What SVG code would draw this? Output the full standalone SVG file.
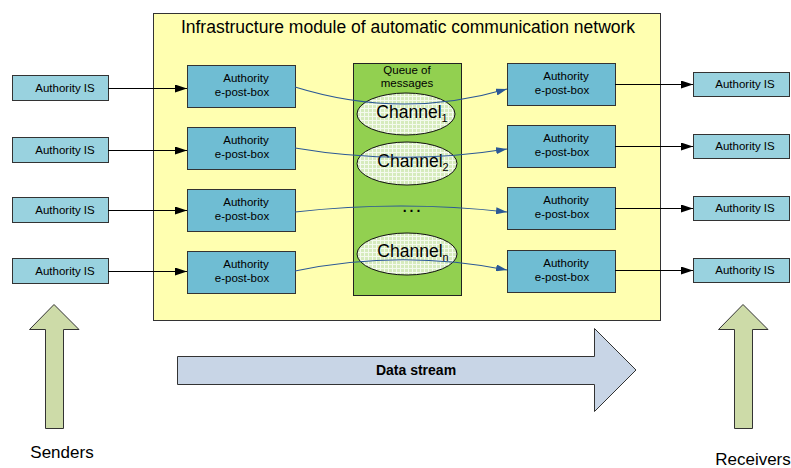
<svg xmlns="http://www.w3.org/2000/svg" width="791" height="468" viewBox="0 0 791 468">
  <style>
    text { font-family: "Liberation Sans", Arial, sans-serif; fill: #000; }
    .is { fill: #99d2df; stroke: #333; stroke-width: 1; }
    .box { fill: #6fbdd3; stroke: #333; stroke-width: 1; }
    .lbl { font-size: 11.5px; text-anchor: middle; }
    .ch { font-size: 17.5px; text-anchor: middle; }
    .link { stroke: #000; stroke-width: 1; fill: none; marker-end: url(#arrBlack); }
    .flow { stroke: #2b5896; stroke-width: 1.2; fill: none; marker-end: url(#arrBlue); }
    .ell { fill: url(#grid); stroke: #111; stroke-width: 1; }
    .fat { stroke: #333; stroke-width: 1; }
  </style>
  <defs>
    <marker id="arrBlack" viewBox="0 0 12 8" refX="12" refY="4" markerWidth="12" markerHeight="8" markerUnits="userSpaceOnUse" orient="auto">
      <path d="M0,0 L12,4 L0,8 Z" fill="#000"/>
    </marker>
    <marker id="arrBlue" viewBox="0 0 11 7" refX="11" refY="3.5" markerWidth="11" markerHeight="7" markerUnits="userSpaceOnUse" orient="auto">
      <path d="M0,0 L11,3.5 L0,7 Z" fill="#2b5896"/>
    </marker>
    <pattern id="grid" width="4" height="4" patternUnits="userSpaceOnUse">
      <rect width="4" height="4" fill="#d6ebbd"/>
      <path d="M0,0.5 H4 M0.5,0 V4" stroke="#f4faee" stroke-width="1"/>
    </pattern>
  </defs>

  <!-- infrastructure module frame -->
  <g id="module">
    <rect x="153.5" y="13.5" width="507" height="307" fill="#ffffb0" stroke="#333" stroke-width="1"/>
    <text x="408" y="33" font-size="17.5" text-anchor="middle">Infrastructure module of automatic communication network</text>
  </g>

  <!-- message queue -->
  <g id="queue">
    <rect x="353.5" y="63.5" width="108" height="232" fill="#92d050" stroke="#222" stroke-width="1"/>
    <text class="lbl" x="407" y="74">Queue of</text>
    <text class="lbl" x="407" y="87">messages</text>
  </g>
  <g id="channel1">
    <ellipse class="ell" cx="406" cy="114" rx="49" ry="21"/>
    <text class="ch" x="412" y="118">Channel<tspan font-size="11" dy="4">1</tspan></text>
  </g>
  <g id="channel2">
    <ellipse class="ell" cx="407" cy="163.5" rx="50" ry="21.5"/>
    <text class="ch" x="413" y="167">Channel<tspan font-size="11" dy="4">2</tspan></text>
  </g>
  <g id="ellipsis">
    <text x="413" y="212" font-size="14" font-weight="bold" letter-spacing="3" text-anchor="middle">...</text>
  </g>
  <g id="channeln">
    <ellipse class="ell" cx="407" cy="254" rx="50" ry="21"/>
    <text class="ch" x="413" y="257">Channel<tspan font-size="11" dy="4">n</tspan></text>
  </g>

  <!-- sending information systems -->
  <g id="senderIS1"><rect class="is" x="12.5" y="75.5" width="96" height="25"/><text class="lbl" x="65" y="92">Authority IS</text></g>
  <g id="senderIS2"><rect class="is" x="12.5" y="137.5" width="96" height="25"/><text class="lbl" x="65" y="154">Authority IS</text></g>
  <g id="senderIS3"><rect class="is" x="12.5" y="197.5" width="96" height="25"/><text class="lbl" x="65" y="214">Authority IS</text></g>
  <g id="senderIS4"><rect class="is" x="12.5" y="258.5" width="96" height="25"/><text class="lbl" x="65" y="275">Authority IS</text></g>

  <!-- sending e-post-boxes -->
  <g id="senderBox1"><rect class="box" x="187.5" y="65.5" width="108" height="42"/><text class="lbl" x="246" y="82">Authority</text><text class="lbl" x="242" y="96">e-post-box</text></g>
  <g id="senderBox2"><rect class="box" x="187.5" y="127.5" width="108" height="42"/><text class="lbl" x="246" y="144">Authority</text><text class="lbl" x="242" y="158">e-post-box</text></g>
  <g id="senderBox3"><rect class="box" x="187.5" y="189.5" width="108" height="42"/><text class="lbl" x="246" y="206">Authority</text><text class="lbl" x="242" y="220">e-post-box</text></g>
  <g id="senderBox4"><rect class="box" x="187.5" y="251.5" width="108" height="42"/><text class="lbl" x="246" y="268">Authority</text><text class="lbl" x="242" y="282">e-post-box</text></g>

  <!-- receiving e-post-boxes -->
  <g id="receiverBox1"><rect class="box" x="507.5" y="63.5" width="108" height="42"/><text class="lbl" x="566" y="80">Authority</text><text class="lbl" x="562" y="94">e-post-box</text></g>
  <g id="receiverBox2"><rect class="box" x="507.5" y="125.5" width="108" height="42"/><text class="lbl" x="566" y="142">Authority</text><text class="lbl" x="562" y="156">e-post-box</text></g>
  <g id="receiverBox3"><rect class="box" x="507.5" y="187.5" width="108" height="42"/><text class="lbl" x="566" y="204">Authority</text><text class="lbl" x="562" y="218">e-post-box</text></g>
  <g id="receiverBox4"><rect class="box" x="507.5" y="250.5" width="108" height="42"/><text class="lbl" x="566" y="267">Authority</text><text class="lbl" x="562" y="281">e-post-box</text></g>

  <!-- receiving information systems -->
  <g id="receiverIS1"><rect class="is" x="693.5" y="72.5" width="96" height="24"/><text class="lbl" x="745" y="88">Authority IS</text></g>
  <g id="receiverIS2"><rect class="is" x="693.5" y="134.5" width="96" height="24"/><text class="lbl" x="745" y="150">Authority IS</text></g>
  <g id="receiverIS3"><rect class="is" x="693.5" y="196.5" width="96" height="24"/><text class="lbl" x="745" y="212">Authority IS</text></g>
  <g id="receiverIS4"><rect class="is" x="693.5" y="258.5" width="96" height="24"/><text class="lbl" x="745" y="274">Authority IS</text></g>

  <!-- connectors -->
  <g id="connectors">
    <path class="link" d="M108,88.5 H187"/>
    <path class="link" d="M108,150.5 H187"/>
    <path class="link" d="M108,210.5 H187"/>
    <path class="link" d="M108,271.5 H187"/>
    <path class="link" d="M615,84.5 H693"/>
    <path class="link" d="M615,146.5 H693"/>
    <path class="link" d="M615,208.5 H693"/>
    <path class="link" d="M615,270.5 H693"/>
    <path class="flow" d="M295,87 Q401,120 507,89"/>
    <path class="flow" d="M295,148 Q401,166 507,149"/>
    <path class="flow" d="M295,212 Q401,200 507,212"/>
    <path class="flow" d="M295,271 Q401,249 507,270"/>
  </g>

  <!-- data stream arrow -->
  <g id="dataStream">
    <path class="fat" d="M177.5,356.5 H594.5 V328.5 L636,370 L594.5,411.5 V384.5 H177.5 Z" fill="#c8d5e6"/>
    <text x="416" y="375" font-size="14" font-weight="bold" text-anchor="middle">Data stream</text>
  </g>

  <!-- senders arrow -->
  <g id="senders">
    <path class="fat" d="M45.5,428.5 V329.5 H29.5 L54,304.5 L79,329.5 H63.5 V428.5 Z" fill="#cddba8"/>
    <text x="62" y="458" font-size="17" text-anchor="middle">Senders</text>
  </g>

  <!-- receivers arrow -->
  <g id="receivers">
    <path class="fat" d="M734.5,428.5 V329.5 H718.5 L743,304.5 L768,329.5 H752.5 V428.5 Z" fill="#cddba8"/>
    <text x="753" y="465" font-size="17" text-anchor="middle">Receivers</text>
  </g>
</svg>
